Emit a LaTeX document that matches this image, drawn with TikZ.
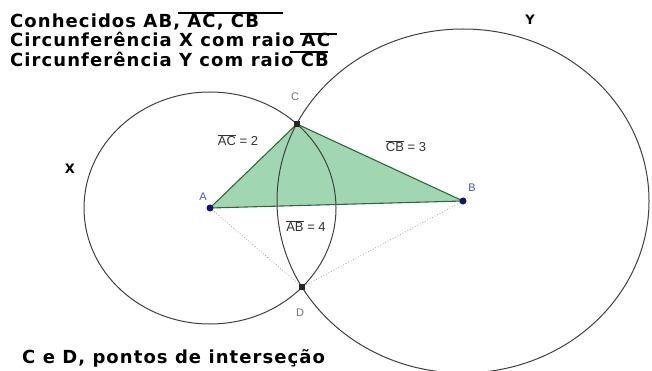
\documentclass[tikz,border=0pt]{standalone}
\usepackage{fontspec}
\setmainfont{DejaVu Sans}
\newfontfamily\ggbfont{Liberation Sans}
\usetikzlibrary{positioning}
\definecolor{trifill}{RGB}{160,215,178}
\definecolor{triedge}{RGB}{45,105,60}
\definecolor{ptblue}{RGB}{20,20,120}
\definecolor{lblblue}{RGB}{80,80,190}
\begin{document}
\begin{tikzpicture}[
    x=1pt, y=-1pt,
    circ/.style={draw=black!75, line width=1pt},
    side/.style={draw=triedge, line width=1.1pt},
    helper/.style={draw=black!35, dotted, line width=0.8pt},
    title/.style={anchor=base west, inner sep=0pt, font=\bfseries\fontsize{18}{20}\selectfont\addfontfeature{LetterSpace=6}},
    bar/.style={draw=black, line width=1.2pt},
    measure/.style={font=\ggbfont\fontsize{13}{15}\selectfont, text=black!80, inner sep=1pt},
    ptlabel/.style={font=\ggbfont\fontsize{11}{13}\selectfont, inner sep=1pt},
    freept/.style={circle, fill=ptblue, inner sep=0pt, minimum size=7pt},
    cutpt/.style={rectangle, fill=black!85, inner sep=0pt, minimum size=6.5pt}
]
    \useasboundingbox (0,0) rectangle (652,371);
    % centres and intersection points
    \coordinate (A) at (210,208);
    \coordinate (B) at (463,201);
    \coordinate (C) at (296.9,124.0);
    \coordinate (D) at (302.2,287.0);
    % triangle and circles
    \fill[trifill] (A) -- (C) -- (B) -- cycle;
    \draw[helper] (A) -- (D) -- (B);
    \draw[circ] (A) ellipse [x radius=126pt, y radius=116pt];
    \draw[circ] (B) ellipse [x radius=186pt, y radius=172pt];
    \draw[side] (A) -- (C) -- (B) -- cycle;
    % points
    \node[freept] (a) at (A) {};
    \node[freept] (b) at (B) {};
    \node[cutpt] (c) at (C) {};
    \node[cutpt] (d) at (D) {};
    \node[ptlabel, text=lblblue] (la) at (203,197) {A};
    \node[ptlabel, text=lblblue] (lb) at (472,188) {B};
    \node[ptlabel, text=black!55] (lc) at (295,97) {C};
    \node[ptlabel, text=black!55] (ld) at (300,313) {D};
    % lengths
    \node[measure] (mac) at (238,140) {$\overline{\hbox{AC}}$ = 2};
    \node[measure] (mcb) at (406,146) {$\overline{\hbox{CB}}$ = 3};
    \node[measure] (mab) at (306,226) {$\overline{\hbox{AB}}$ = 4};
    % circle names
    \node[font=\bfseries\fontsize{13}{15}\selectfont] (nx) at (70,169) {X};
    \node[font=\bfseries\fontsize{13}{15}\selectfont] (ny) at (530,20) {Y};
    % texts
    \node[title] (t1) at (10,28) {Conhecidos AB, AC, CB};
    \node[title] (t2) at (10,47) {Circunferência X com raio AC};
    \node[title] (t3) at (10,67) {Circunferência Y com raio CB};
    \node[title] (t4) at (22,363) {C e D, pontos de interseção};
    \draw[bar] (178,13) -- (283,13);
    \draw[bar] (300,34) -- (337,34);
    \draw[bar] (290,52) -- (328,52);
\end{tikzpicture}
\end{document}
